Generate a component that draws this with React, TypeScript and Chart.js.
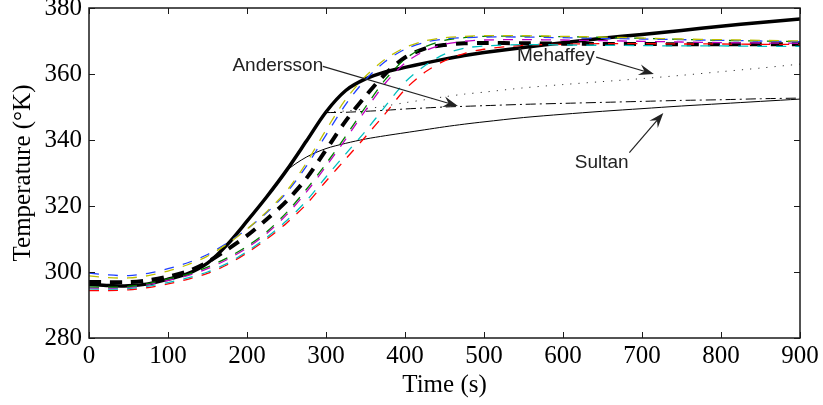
import React, { useEffect, useRef } from 'react';
import { Chart, registerables } from 'chart.js';

Chart.register(...registerables);

// ---- data ----
const TIMES = [0, 25, 50, 75, 100, 125, 150, 175, 200, 225, 250, 275, 300, 325, 350, 375, 400, 425, 450, 475, 500, 550, 600, 650, 700, 750, 800, 850, 900];

const MEASURED = [296.3, 295.9, 295.8, 296.4, 297.8, 299.5, 302.7, 308.3, 315.4, 322.8, 330.8, 339.6, 348.5, 355.0, 358.5, 360.6, 362.0, 363.3, 364.5, 365.6, 366.5, 368.0, 369.5, 370.8, 372.0, 373.2, 374.5, 375.6, 376.7];
const MEAN_MODEL = [297.0, 296.9, 296.9, 297.5, 298.6, 300.2, 303.0, 306.8, 311.0, 316.0, 321.5, 328.3, 337.0, 345.8, 353.3, 360.0, 365.0, 367.7, 368.8, 369.3, 369.4, 369.3, 369.2, 369.1, 369.1, 369.0, 369.0, 369.0, 369.0];
const SULTAN = [null, null, null, null, null, null, null, null, null, 322.8, 330.6, 334.8, 337.4, 339.0, 340.3, 341.3, 342.2, 343.1, 344.0, 344.8, 345.5, 346.8, 347.8, 348.7, 349.5, 350.3, 351.0, 351.7, 352.4];
const ANDERSSON = [null, null, null, null, null, null, null, null, null, null, null, null, 348.3, 348.4, 348.7, 349.0, 349.4, 349.7, 350.0, 350.2, 350.4, 350.8, 351.1, 351.4, 351.7, 352.0, 352.2, 352.5, 352.7];
const MEHAFFEY = [null, null, null, null, null, null, null, null, null, null, null, null, 348.5, 348.8, 349.4, 350.3, 351.3, 352.2, 353.1, 353.9, 354.5, 355.8, 356.8, 357.7, 358.6, 359.6, 360.7, 361.8, 363.0];

const RUN_YELLOW = [298.8, 298.3, 298.2, 298.9, 300.3, 302.2, 304.8, 308.5, 313.0, 318.3, 324.5, 333.0, 343.0, 352.3, 359.3, 364.5, 368.0, 370.0, 371.0, 371.4, 371.6, 371.6, 371.4, 371.2, 370.9, 370.6, 370.4, 370.2, 370.0];
const RUN_BLUE = [299.7, 299.1, 298.9, 299.6, 301.0, 302.8, 305.3, 308.8, 313.0, 318.0, 324.0, 332.0, 341.5, 350.8, 358.3, 363.8, 367.5, 369.6, 370.6, 371.0, 371.2, 371.2, 371.0, 370.8, 370.6, 370.4, 370.2, 370.0, 369.8];
const RUN_GREEN = [295.5, 295.4, 295.6, 296.5, 297.9, 299.3, 301.5, 304.3, 307.8, 312.2, 318.0, 325.0, 332.8, 341.2, 350.0, 358.3, 364.5, 368.2, 370.2, 371.0, 371.4, 371.5, 371.3, 371.1, 370.8, 370.5, 370.2, 370.0, 369.8];
const RUN_MAGENTA = [295.2, 295.1, 295.4, 296.2, 297.5, 298.9, 301.0, 303.8, 307.3, 311.7, 317.3, 324.2, 332.0, 340.3, 349.0, 357.2, 363.3, 367.0, 369.0, 369.9, 370.3, 370.4, 370.3, 370.1, 369.9, 369.7, 369.5, 369.4, 369.3];
const RUN_CYAN = [294.9, 294.8, 295.0, 295.7, 296.8, 298.2, 300.0, 302.6, 306.2, 310.5, 315.5, 321.5, 328.8, 335.8, 342.7, 350.2, 357.5, 362.5, 366.0, 367.8, 368.5, 368.9, 368.8, 368.7, 368.6, 368.5, 368.5, 368.4, 368.4];
const RUN_RED = [294.4, 294.4, 294.6, 295.3, 296.4, 297.8, 299.6, 302.2, 305.8, 310.0, 314.8, 320.5, 327.5, 334.3, 341.0, 348.0, 355.3, 360.5, 364.0, 366.2, 367.5, 368.7, 369.0, 369.2, 369.2, 369.1, 369.1, 369.0, 369.0];

const X_TICKS = [0, 100, 200, 300, 400, 500, 600, 700, 800, 900];
const Y_TICKS = [280, 300, 320, 340, 360, 380];

const ANNOTATIONS = [
  { label: 'Andersson', at: [239, 362.4], from: [296, 362.3], to: [467, 350.3] },
  { label: 'Mehaffey', at: [591, 365.5], from: [642, 365.1], to: [715, 360.0] },
  { label: 'Sultan', at: [649, 333.0], from: [684, 336.2], to: [727, 348.2] },
];

const toPts = (arr: (number | null)[]) => TIMES.map((t, i) => ({ x: t, y: arr[i] }));

const serif = "'Liberation Serif', 'Times New Roman', serif";

const framePlugin = {
  id: 'frameTicks',
  afterDatasetsDraw(chart: any) {
    const { ctx, chartArea: a, scales } = chart;
    ctx.save();
    ctx.strokeStyle = '#1a1a1a';
    ctx.lineWidth = 1;
    ctx.beginPath();
    const L = 6;
    X_TICKS.forEach((v) => {
      const px = Math.round(scales.x.getPixelForValue(v)) + 0.5;
      ctx.moveTo(px, a.bottom); ctx.lineTo(px, a.bottom - L);
      ctx.moveTo(px, a.top); ctx.lineTo(px, a.top + L);
    });
    Y_TICKS.forEach((v) => {
      const py = Math.round(scales.y.getPixelForValue(v)) + 0.5;
      ctx.moveTo(a.left, py); ctx.lineTo(a.left + L, py);
      ctx.moveTo(a.right, py); ctx.lineTo(a.right - L, py);
    });
    ctx.stroke();
    ctx.lineWidth = 1.5;
    ctx.strokeRect(a.left, a.top, a.right - a.left, a.bottom - a.top);

    // annotations
    ctx.fillStyle = '#222';
    ctx.strokeStyle = '#222';
    ctx.font = "19px 'Liberation Sans', Arial, sans-serif";
    ctx.textAlign = 'center';
    ctx.textBaseline = 'middle';
    ANNOTATIONS.forEach((an) => {
      const tx = scales.x.getPixelForValue(an.at[0]);
      const ty = scales.y.getPixelForValue(an.at[1]);
      ctx.fillText(an.label, tx, ty);
      const x1 = scales.x.getPixelForValue(an.from[0]);
      const y1 = scales.y.getPixelForValue(an.from[1]);
      const x2 = scales.x.getPixelForValue(an.to[0]);
      const y2 = scales.y.getPixelForValue(an.to[1]);
      const dx = x2 - x1, dy = y2 - y1;
      const len = Math.hypot(dx, dy);
      const ux = dx / len, uy = dy / len;
      const px = -uy, py = ux;
      const H = 15, W = 5.5;
      ctx.lineWidth = 1.2;
      ctx.beginPath();
      ctx.moveTo(x1, y1);
      ctx.lineTo(x2 - ux * H * 0.6, y2 - uy * H * 0.6);
      ctx.stroke();
      ctx.beginPath();
      ctx.moveTo(x2, y2);
      ctx.lineTo(x2 - ux * H + px * W, y2 - uy * H + py * W);
      ctx.lineTo(x2 - ux * H * 0.65, y2 - uy * H * 0.65);
      ctx.lineTo(x2 - ux * H - px * W, y2 - uy * H - py * W);
      ctx.closePath();
      ctx.fill();
    });
    ctx.restore();
  },
};

export default function App() {
  const ref = useRef<HTMLCanvasElement | null>(null);
  useEffect(() => {
    if (!ref.current) return;
    const colored = (data: number[], color: string) => ({
      data: toPts(data),
      borderColor: color,
      borderWidth: 1.3,
      borderDash: [10, 9],
      tension: 0.3,
    });
    const chart = new Chart(ref.current, {
      type: 'line',
      data: {
        datasets: [
          colored(RUN_YELLOW, '#bfbf00'),
          colored(RUN_BLUE, '#2040ff'),
          colored(RUN_GREEN, '#008000'),
          colored(RUN_MAGENTA, '#bf00bf'),
          colored(RUN_CYAN, '#00bfbf'),
          colored(RUN_RED, '#ff0000'),
          { data: toPts(MEAN_MODEL), borderColor: '#000', borderWidth: 4, borderDash: [12, 9], tension: 0.3 },
          { data: toPts(SULTAN), borderColor: '#000', borderWidth: 1, tension: 0.3 },
          { data: toPts(ANDERSSON), borderColor: '#000', borderWidth: 1, borderDash: [10, 4, 2, 4], tension: 0.3 },
          { data: toPts(MEHAFFEY), borderColor: '#333', borderWidth: 1, borderDash: [1.2, 7], tension: 0.3 },
          { data: toPts(MEASURED), borderColor: '#000', borderWidth: 3.5, tension: 0.3 },
        ] as any,
      },
      options: {
        animation: false,
        responsive: false,
        maintainAspectRatio: false,
        layout: { padding: { top: 8, right: 23, left: 0, bottom: 0 } },
        elements: { point: { radius: 0 } },
        plugins: { legend: { display: false }, tooltip: { enabled: false } },
        scales: {
          x: {
            type: 'linear',
            min: 0,
            max: 900,
            ticks: { stepSize: 100, color: '#000', font: { family: serif, size: 25 }, padding: 3, maxRotation: 0, autoSkip: false },
            grid: { display: false, drawTicks: false },
            border: { display: false },
            title: { display: true, text: 'Time (s)', color: '#000', font: { family: serif, size: 25 }, padding: { top: 0, bottom: 5 } },
            afterFit: (s: any) => { s.height = 67; s.paddingLeft = 0; s.paddingRight = 0; },
          },
          y: {
            type: 'linear',
            min: 280,
            max: 380,
            ticks: { stepSize: 20, color: '#000', font: { family: serif, size: 25 }, padding: 7, autoSkip: false },
            grid: { display: false, drawTicks: false },
            border: { display: false },
            title: { display: true, text: 'Temperature (°K)', color: '#000', font: { family: serif, size: 25 }, padding: { top: 8, bottom: 0 } },
            afterFit: (s: any) => { s.width = 89; s.paddingTop = 0; s.paddingBottom = 0; },
          },
        },
      } as any,
      plugins: [framePlugin],
    });
    return () => chart.destroy();
  }, []);
  return (
    <div style={{ position: 'absolute', left: 0, top: 0, width: 823, height: 405, background: '#fff' }}>
      <canvas ref={ref} width={823} height={405} style={{ display: 'block' }} />
    </div>
  );
}
